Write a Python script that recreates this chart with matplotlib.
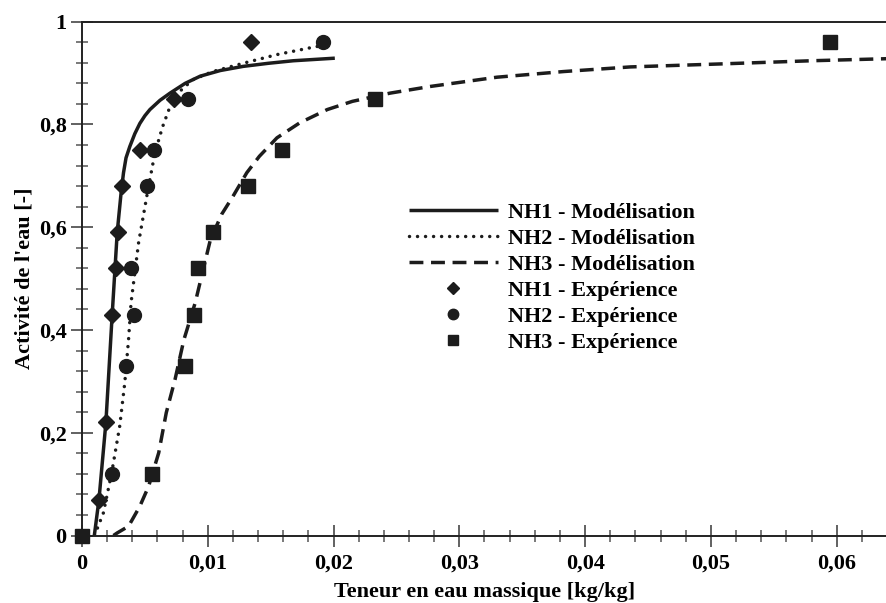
"""courbes de sorption - activite de l'eau"""

import numpy as np
import matplotlib.pyplot as plt
from matplotlib.ticker import MultipleLocator, FuncFormatter

# modelisation (lue le long des courbes)
nh1_mod_x = [0.00098, 0.00135, 0.0019, 0.0024, 0.0028, 0.0031, 0.0033, 0.0035, 0.0038, 0.0042,
             0.0046, 0.0050, 0.0054, 0.0062, 0.0070, 0.0082, 0.0094, 0.0110, 0.0128, 0.0148,
             0.0168, 0.0201]
nh1_mod_y = [0.0, 0.07, 0.22, 0.43, 0.59, 0.665, 0.706, 0.735, 0.757, 0.782,
             0.802, 0.817, 0.829, 0.847, 0.861, 0.880, 0.894, 0.905, 0.913, 0.919,
             0.924, 0.929]

nh2_mod_x = [0.0010, 0.0017, 0.00236, 0.0030, 0.0034, 0.0037, 0.0039, 0.0045, 0.0052, 0.0058,
             0.0064, 0.0070, 0.0078, 0.0088, 0.0104, 0.0128, 0.0155, 0.0181, 0.0194]
nh2_mod_y = [0.0, 0.044, 0.122, 0.213, 0.297, 0.381, 0.453, 0.57, 0.667, 0.745,
             0.795, 0.835, 0.865, 0.887, 0.903, 0.919, 0.936, 0.949, 0.955]

nh3_mod_x = [0.0025, 0.0028, 0.0037, 0.0046, 0.0053, 0.0061, 0.0067, 0.0074, 0.0081, 0.0090,
             0.0102, 0.0111, 0.0120, 0.0131, 0.0141, 0.0155, 0.0173, 0.0195, 0.0215, 0.0245,
             0.0277, 0.0330, 0.0383, 0.0436, 0.0510, 0.0580, 0.0640]
nh3_mod_y = [0.0, 0.005, 0.018, 0.057, 0.096, 0.161, 0.239, 0.304, 0.381, 0.453,
             0.575, 0.625, 0.660, 0.706, 0.738, 0.774, 0.803, 0.829, 0.845, 0.861,
             0.874, 0.892, 0.903, 0.912, 0.918, 0.924, 0.928]

# mesures
nh1_exp_x = [0.00135, 0.0019, 0.0024, 0.0027, 0.0029, 0.0032, 0.0046, 0.0073, 0.0134]
nh1_exp_y = [0.07, 0.22, 0.43, 0.52, 0.59, 0.68, 0.75, 0.85, 0.96]

nh2_exp_x = [0.0024, 0.0035, 0.0041, 0.0039, 0.0052, 0.0057, 0.0084, 0.0192]
nh2_exp_y = [0.12, 0.33, 0.43, 0.52, 0.68, 0.75, 0.85, 0.96]

nh3_exp_x = [0.0, 0.0056, 0.0082, 0.0089, 0.0092, 0.0104, 0.0132, 0.0159, 0.0233, 0.0595]
nh3_exp_y = [0.0, 0.12, 0.33, 0.43, 0.52, 0.59, 0.68, 0.75, 0.85, 0.96]

plt.rcParams['font.family'] = ['Liberation Serif', 'DejaVu Serif']
plt.rcParams['font.weight'] = 'bold'
plt.rcParams['font.size'] = 16

fig = plt.figure(figsize=(8.87, 6.03), dpi=100)
ax = fig.add_axes([82 / 887, (603 - 535.5) / 603, 805 / 887, 513.8 / 603])

col = '#1c1c1c'
lw = 2.5

ax.plot(nh1_mod_x, nh1_mod_y, color=col, lw=lw, solid_capstyle='butt', label='NH1 - Modélisation')
ax.plot(nh2_mod_x, nh2_mod_y, color=col, lw=lw, linestyle=(0, (0.01, 2.3)),
        dash_capstyle='round', label='NH2 - Modélisation')
ax.plot(nh3_mod_x, nh3_mod_y, color=col, lw=lw, linestyle=(0, (4.0, 2.2)),
        dash_capstyle='butt', label='NH3 - Modélisation')

ax.plot(nh1_exp_x, nh1_exp_y, 'D', color=col, ms=8, ls='none', clip_on=False, zorder=4,
        label='NH1 - Expérience')
ax.plot(nh2_exp_x, nh2_exp_y, 'o', color=col, ms=10, ls='none', clip_on=False, zorder=4,
        label='NH2 - Expérience')
ax.plot(nh3_exp_x, nh3_exp_y, 's', color=col, ms=9.5, ls='none', clip_on=False, zorder=5,
        label='NH3 - Expérience')

ax.set_xlim(0, 0.064)
ax.set_ylim(0, 1)


def virgule(v, pos):
    s = ('%.2f' % v).rstrip('0').rstrip('.')
    return s.replace('.', ',')


ax.xaxis.set_major_locator(MultipleLocator(0.01))
ax.xaxis.set_minor_locator(MultipleLocator(0.002))
ax.yaxis.set_major_locator(MultipleLocator(0.2))
ax.yaxis.set_minor_locator(MultipleLocator(0.04))
ax.xaxis.set_major_formatter(FuncFormatter(virgule))
ax.yaxis.set_major_formatter(FuncFormatter(virgule))

ax.tick_params(which='major', direction='inout', length=16, width=1.3, color='#555555', pad=5)
ax.tick_params(which='minor', direction='inout', length=9, width=1.1, color='#555555')
ax.tick_params(axis='y', pad=3)
for lab in ax.get_xticklabels() + ax.get_yticklabels():
    lab.set_fontweight('bold')

for s in ['left', 'bottom', 'top']:
    ax.spines[s].set_linewidth(1.4)
    ax.spines[s].set_color('#222222')
ax.spines['right'].set_visible(False)

ax.set_xlabel("Teneur en eau massique [kg/kg]", fontweight='bold', labelpad=6)
ax.set_ylabel("Activité de l'eau [-]", fontweight='bold', labelpad=3)

leg = ax.legend(loc='upper left', bbox_to_anchor=(0.395, 0.665), frameon=False,
                prop={'weight': 'bold', 'size': 16},
                handlelength=4.0, handletextpad=0.45, labelspacing=0.24, markerscale=0.75,
                borderaxespad=0)

plt.savefig('out.png', dpi=100)
